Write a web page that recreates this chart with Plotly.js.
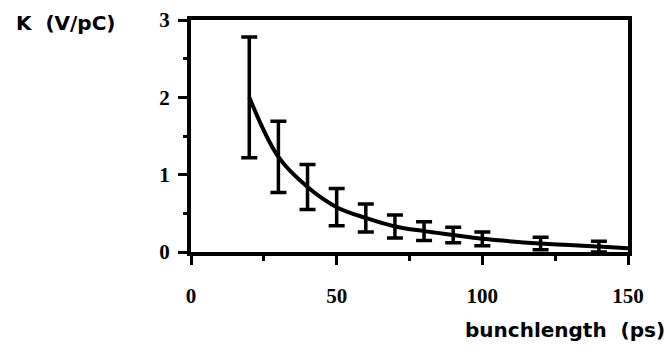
<!DOCTYPE html>
<html>
<head>
<meta charset="utf-8">
<script src="https://cdn.plot.ly/plotly-3.0.1.min.js"></script>
<style>html,body{margin:0;padding:0;background:#fff;}#chart{width:668px;height:351px;}</style>
</head>
<body>
<div id="chart"></div>
<script>
// bunch length (ps)
const bunchLength = [20, 30, 40, 50, 60, 70, 80, 90, 100, 120, 140];
// loss factor K (V/pC)
const lossFactor = [2.0, 1.23, 0.84, 0.58, 0.44, 0.33, 0.27, 0.22, 0.17, 0.11, 0.07];
// error bar half-heights
const lossError = [0.78, 0.46, 0.29, 0.24, 0.18, 0.15, 0.12, 0.10, 0.09, 0.08, 0.07];
// smooth curve through the points, continued to the right edge
const curveX = [20, 30, 40, 50, 60, 70, 80, 90, 100, 120, 140, 150];
const curveY = [2.0, 1.23, 0.84, 0.58, 0.44, 0.33, 0.27, 0.22, 0.17, 0.11, 0.07, 0.05];
const xTicks = [0, 50, 100, 150];
const yTicks = [0, 1, 2, 3];

const serif = 'Liberation Serif, Times New Roman, serif';
const sans = 'DejaVu Sans, Liberation Sans, sans-serif';

const traces = [
  {
    x: curveX, y: curveY, type: 'scatter', mode: 'lines',
    line: {color: '#000', width: 4, shape: 'spline', smoothing: 1},
    hoverinfo: 'skip', showlegend: false
  },
  {
    x: bunchLength, y: lossFactor, type: 'scatter', mode: 'markers',
    marker: {size: 1, color: '#000'},
    error_y: {type: 'data', array: lossError, visible: true, color: '#000', thickness: 3.5, width: 8},
    showlegend: false
  }
];

const layout = {
  width: 668, height: 351,
  margin: {l: 191, r: 40, t: 20, b: 99},
  paper_bgcolor: '#fff', plot_bgcolor: '#fff',
  showlegend: false,
  xaxis: {
    range: [0, 150], tickvals: xTicks, ticktext: xTicks.map(String),
    showgrid: false, zeroline: false,
    showline: true, linecolor: '#000', linewidth: 4, mirror: true,
    ticks: 'outside', ticklen: 9, tickwidth: 3, tickcolor: '#000',
    minor: {dtick: 25, tick0: 0, ticks: 'outside', ticklen: 5, tickwidth: 3, tickcolor: '#000'},
    ticklabelstandoff: 13,
    tickfont: {family: serif, size: 21, color: '#000', weight: 'bold'}
  },
  yaxis: {
    range: [0, 3], tickvals: yTicks, ticktext: yTicks.map(String),
    showgrid: false, zeroline: false,
    showline: true, linecolor: '#000', linewidth: 4, mirror: true,
    ticks: 'outside', ticklen: 9, tickwidth: 3, tickcolor: '#000',
    minor: {dtick: 0.5, tick0: 0, ticks: 'outside', ticklen: 4, tickwidth: 3, tickcolor: '#000'},
    ticklabelstandoff: 4,
    tickfont: {family: serif, size: 21, color: '#000', weight: 'bold'}
  },
  annotations: [
    {text: 'K  (V/pC)', xref: 'paper', yref: 'paper', x: -0.405, y: 0.985,
     xanchor: 'left', yanchor: 'middle', showarrow: false,
     font: {family: sans, size: 20, color: '#000', weight: 'bold'}},
    {text: 'bunchlength  (ps)', xref: 'paper', yref: 'paper', x: 1.09, y: -0.335,
     xanchor: 'right', yanchor: 'middle', showarrow: false,
     font: {family: sans, size: 20, color: '#000', weight: 'bold'}}
  ]
};

Plotly.newPlot('chart', traces, layout, {staticPlot: true, displayModeBar: false});
</script>
</body>
</html>
